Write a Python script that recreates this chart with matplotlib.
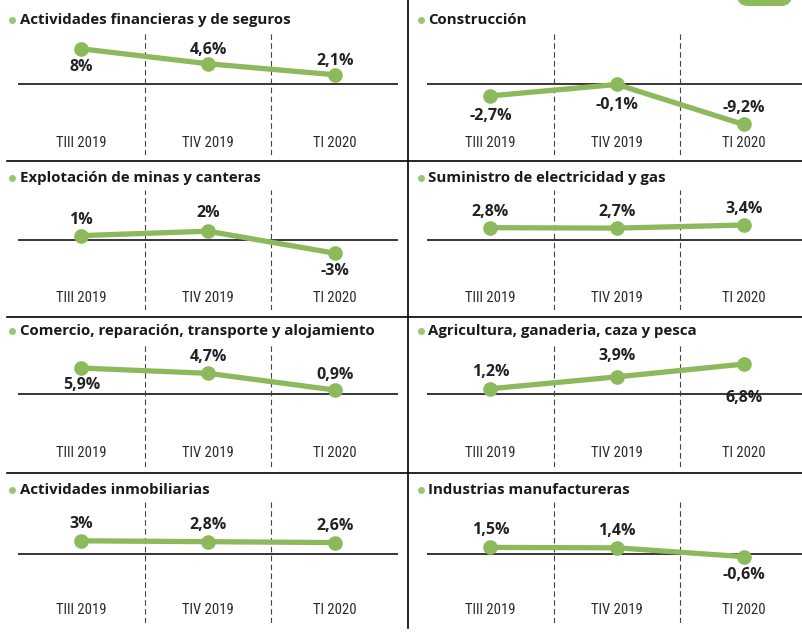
import matplotlib
matplotlib.use('Agg')
import matplotlib.pyplot as plt
from matplotlib.lines import Line2D
from matplotlib.patches import FancyBboxPatch
from matplotlib.transforms import IdentityTransform

W, H = 803, 632
SCALE = 4.4  # px por punto porcentual

quarters = ['TIII 2019', 'TIV 2019', 'TI 2020']

financieras = [8.0, 4.6, 2.1]
construccion = [-2.7, -0.1, -9.2]
minas = [1.0, 2.0, -3.0]
electricidad = [2.8, 2.7, 3.4]
comercio = [5.9, 4.7, 0.9]
agricultura = [1.2, 3.9, 6.8]
inmobiliarias = [3.0, 2.8, 2.6]
manufactureras = [1.5, 1.4, -0.6]

titles = [
    'Actividades financieras y de seguros', 'Construcción',
    'Explotación de minas y canteras', 'Suministro de electricidad y gas',
    'Comercio, reparación, transporte y alojamiento', 'Agricultura, ganaderia, caza y pesca',
    'Actividades inmobiliarias', 'Industrias manufactureras',
]
series = [financieras, construccion, minas, electricidad,
          comercio, agricultura, inmobiliarias, manufactureras]

# desplazamiento vertical de cada etiqueta (px, + arriba)
label_off = [
    [-18, 14, 14], [-20, -21, 16],
    [16, 18, -18], [16, 16, 16],
    [-17, 16, 15], [17, 21, -34],
    [17, 17, 17], [17, 17, -18],
]

# filas: (top, cero, bottom, ticks, titulo) en px
rows = [(33, 84, 155, 143, 20), (190, 240, 310, 298, 178),
        (343, 394, 467, 453, 331), (502, 554, 623, 610, 490)]
col_x = [18, 427]
col_title = [(12, 20), (421, 428)]
AX_W = 380

green = '#8cb95c'
bullet = '#9cc66f'


def fx(x):
    return x / W


def fy(y):
    return 1 - y / H


fig = plt.figure(figsize=(W / 100, H / 100), dpi=100)

for k, (title, vals) in enumerate(zip(titles, series)):
    r, c = divmod(k, 2)
    top, zero, bot, tick, ty = rows[r]
    ax = fig.add_axes([fx(col_x[c]), fy(bot), AX_W / W, (bot - top) / H])
    ax.set_xlim(-0.5, 2.5)
    ax.set_ylim(-(bot - zero) / SCALE, (zero - top) / SCALE)
    ax.axis('off')

    ax.axhline(0, color='black', lw=1.1, zorder=1)
    for xv in (0.5, 1.5):
        ax.axvline(xv, color='#444444', lw=0.8, ls=(0, (5, 3)), zorder=1)

    xs = range(len(vals))
    ax.plot(xs, vals, color=green, lw=3.8, marker='o', ms=9.5, zorder=3,
            solid_capstyle='round')
    for i, v in enumerate(vals):
        lbl = f'{v:g}'.replace('.', ',') + '%'
        ax.annotate(lbl, (i, v), xytext=(0, label_off[k][i] * 0.72),
                    textcoords='offset points', ha='center', va='center',
                    fontsize=11.5, fontweight='bold', color='#222222',
                    family=['Open Sans', 'DejaVu Sans'])
    yt = (zero - tick) / SCALE
    for i, q in enumerate(quarters):
        ax.text(i, yt, q, ha='center', va='center', fontsize=10.5,
                color='#2a2a2a', fontstretch='condensed',
                family=['Roboto Condensed', 'Liberation Sans Narrow', 'DejaVu Sans'])

    bx, tx = col_title[c]
    fig.add_artist(Line2D([fx(bx)], [fy(ty)], marker='o', ms=4, color=bullet, lw=0))
    fig.text(fx(tx), fy(ty), title, ha='left', va='center', fontsize=10.8,
             fontweight='bold', color='#1a1a1a', family=['Open Sans', 'DejaVu Sans'])

# separadores
for sy in (161, 317, 473):
    fig.add_artist(Line2D([fx(7), 1], [fy(sy), fy(sy)], color='black', lw=1.2))
fig.add_artist(Line2D([fx(408), fx(408)], [fy(0), fy(628)], color='black', lw=1.2))

badge = FancyBboxPatch((737, H - 6), 55, 30, boxstyle='round,pad=0,rounding_size=11',
                       transform=IdentityTransform(), color='#8dbb5a', lw=0)
fig.add_artist(badge)

fig.savefig('out.png', dpi=100)
